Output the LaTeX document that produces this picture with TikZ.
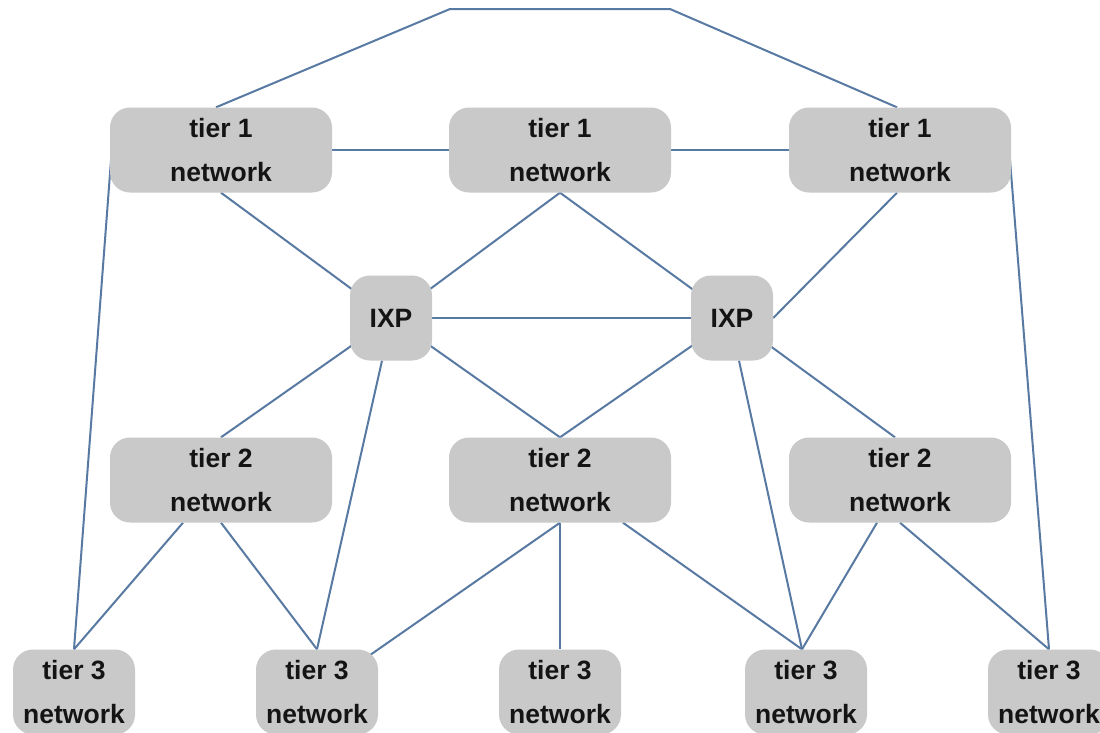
\documentclass[tikz,border=0pt]{standalone}
\usepackage{fontspec}
\setmainfont{Liberation Sans}
\usetikzlibrary{backgrounds}
\definecolor{linkblue}{RGB}{88,122,162}
\definecolor{boxgray}{RGB}{201,201,201}
\definecolor{labelgray}{RGB}{20,20,20}

\begin{document}
\begin{tikzpicture}[x=1pt, y=-1pt]
\tikzset{net/.style={fill=boxgray, rounded corners=20pt, minimum width=222pt, minimum height=85pt, inner sep=0pt, align=center, text=labelgray, font=\fontsize{26.5}{44}\selectfont\bfseries},
  ixp/.style={net, minimum width=82pt}, edgenet/.style={net, minimum width=122pt},
  link/.style={draw=linkblue, line width=2pt}}
\useasboundingbox (0,0) rectangle (1100,732);
\clip (0,0) rectangle (1100,732);
% tier 1
\node[net] (T1a) at (221,150) {tier 1\\network};
\node[net] (T1b) at (560,150) {tier 1\\network};
\node[net] (T1c) at (900,150) {tier 1\\network};
% exchange points
\node[ixp] (IXa) at (391,318) {IXP};
\node[ixp] (IXb) at (732,318) {IXP};
% tier 2
\node[net] (T2a) at (221,480) {tier 2\\network};
\node[net] (T2b) at (560,480) {tier 2\\network};
\node[net] (T2c) at (900,480) {tier 2\\network};
% tier 3
\node[edgenet] (T3a) at (74,692) {tier 3\\network};
\node[edgenet] (T3b) at (317,692) {tier 3\\network};
\node[edgenet] (T3c) at (560,692) {tier 3\\network};
\node[edgenet] (T3d) at (806,692) {tier 3\\network};
\node[edgenet] (T3e) at (1049,692) {tier 3\\network};
\coordinate (top1) at (450,9);
\coordinate (top2) at (670,9);
\begin{scope}[on background layer]
 \fill[white] (0,0) rectangle (1100,732);
 \draw[link] ([xshift=-5pt]T1a.north) -- (top1) -- (top2) -- ([xshift=-3pt]T1c.north);
 \draw[link] (T1a) -- (T1b) -- (T1c);
 \draw[link] ([xshift=2pt]T1a.west) -- (T3a.north);
 \draw[link] ([xshift=-2pt]T1c.east) -- (T3e.north);
 \draw[link] (T1a.south) -- (IXa.center);
 \draw[link] (T1b.south) -- (IXa.center);
 \draw[link] (T1b.south) -- (IXb.center);
 \draw[link] ([xshift=-3pt]T1c.south) -- (IXb.east);
 \draw[link] (IXa) -- (IXb);
 \draw[link] (IXa.center) -- (T2a.north);
 \draw[link] ([xshift=-9pt]IXa.south) -- (T3b.north);
 \draw[link] (IXa.center) -- (T2b.north);
 \draw[link] (IXb.center) -- (T2b.north);
 \draw[link] ([xshift=7pt]IXb.south) -- ([xshift=-4pt]T3d.north);
 \draw[link] (IXb.center) -- ([xshift=-5pt]T2c.north);
 \draw[link] ([xshift=-38pt]T2a.south) -- (T3a.north);
 \draw[link] (T2a.south) -- (T3b.north);
 \draw[link] (T2b.south) -- (T3b.center);
 \draw[link] (T2b.south) -- (T3c.north);
 \draw[link] ([xshift=63pt]T2b.south) -- ([xshift=-4pt]T3d.north);
 \draw[link] ([xshift=-23pt]T2c.south) -- ([xshift=-4pt]T3d.north);
 \draw[link] (T2c.south) -- (T3e.north);
\end{scope}
\end{tikzpicture}
\end{document}
